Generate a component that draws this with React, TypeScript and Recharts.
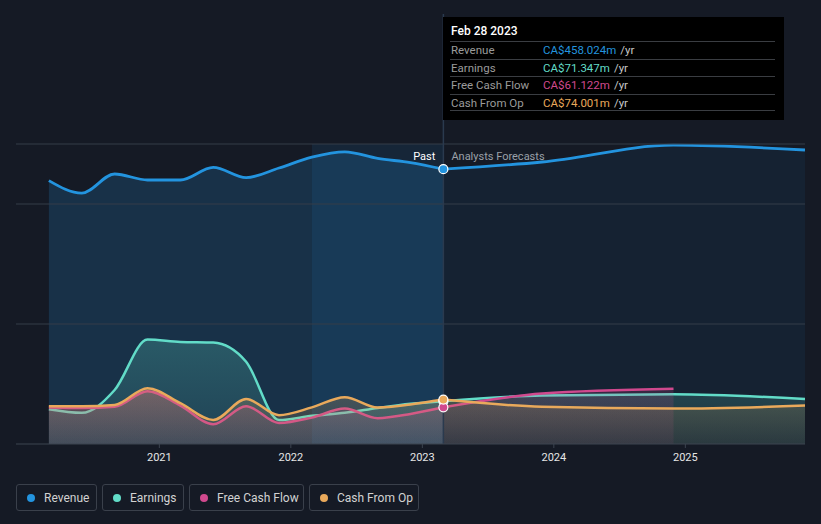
import React from "react";
import {
  ComposedChart,
  Area,
  XAxis,
  YAxis,
  ReferenceArea,
  ReferenceLine,
} from "recharts";

// fractional years: quarterly history (Feb/May/Aug/Nov) then fiscal-year forecasts
const dates = [
  2020.16, 2020.41, 2020.66, 2020.91, 2021.16, 2021.41, 2021.66, 2021.91,
  2022.16, 2022.41, 2022.66, 2022.91, 2023.16, 2023.91, 2024.91, 2025.91,
];
const revenue = [439, 418, 450, 440, 440, 461, 444, 460, 478, 487, 476, 469, 458.024, 470, 498, 490];
const earnings = [58, 52, 90, 174, 170, 169, 137, 40, 47, 52, 60, 67, 71.347, 81, 83, 75];
const freeCashFlow = [61, 60, 62, 88, 64, 33, 63, 35, 44, 59, 43, 50, 61.122, 84, 92, null];
const cashFromOp = [63, 63, 65, 93, 68, 40, 75, 48, 61, 78, 61, 66, 74.001, 62, 59, 64];

const PAST_END = 12; // Feb 28 2023
const BAND_START = 8; // one year before
const yearTicks = [2021, 2022, 2023, 2024, 2025];
const valueTicks = [0, 200, 400, 500];
const gridValues = [200, 400, 500];
const Y_MAX = (500 * 430) / 300;

const seriesNames = ["Revenue", "Earnings", "Free Cash Flow", "Cash From Op"];
const seriesColors = ["#2394df", "#62dcc8", "#d0498e", "#e9a95b"];
const tooltipValues = ["CA$458.024m", "CA$71.347m", "CA$61.122m", "CA$74.001m"];
const tooltipDate = "Feb 28 2023";
const legendWidths = [81, 82, 115, 110];

const BG = "#151a25";
const FONT = "Roboto, 'Open Sans', sans-serif";

const split = (arr: (number | null)[], i: number, past: boolean) =>
  past ? (i <= PAST_END ? arr[i] : null) : i >= PAST_END ? arr[i] : null;

const data = dates.map((t, i) => ({
  t,
  revPast: split(revenue, i, true),
  revFut: split(revenue, i, false),
  earnPast: split(earnings, i, true),
  earnFut: split(earnings, i, false),
  fcfPast: split(freeCashFlow, i, true),
  fcfFut: split(freeCashFlow, i, false),
  cfoPast: split(cashFromOp, i, true),
  cfoFut: split(cashFromOp, i, false),
}));

const makeDot = (color: string) => (p: any) =>
  p.index === PAST_END && p.value != null ? (
    <circle key={p.index} cx={p.cx} cy={p.cy} r={4.5} fill={color} stroke="#fff" strokeWidth={1.2} />
  ) : (
    <g key={p.index} />
  );

const YTick = (props: any) => {
  const { y, payload } = props;
  if (payload.value !== 0 && payload.value !== 500) return <g />;
  return (
    <text x={24} y={y - 8} fill="#e2e2e2" fontSize={11} fontFamily={FONT}>
      {payload.value === 500 ? "CA$500m" : "CA$0"}
    </text>
  );
};

const PastLabel = (props: any) => {
  const { viewBox } = props;
  const y = viewBox.y + 146;
  return (
    <g fontFamily={FONT} fontSize={11}>
      <text x={viewBox.x - 8} y={y} textAnchor="end" fill="#ffffff">
        Past
      </text>
      <text x={viewBox.x + 8} y={y} fill="#9aa0a8">
        Analysts Forecasts
      </text>
    </g>
  );
};

const keys = [
  ["revPast", "revFut"],
  ["earnPast", "earnFut"],
  ["fcfPast", "fcfFut"],
  ["cfoPast", "cfoFut"],
];

export default function App() {
  return (
    <div
      style={{
        position: "absolute",
        left: 0,
        top: 0,
        width: 821,
        height: 524,
        background: BG,
        fontFamily: FONT,
        overflow: "hidden",
      }}
    >
      <ComposedChart
        width={821}
        height={524}
        data={data}
        margin={{ top: 14, right: 16, bottom: 50, left: 16 }}
      >
        <defs>
          {seriesColors.slice(1).map((c, i) => (
            <linearGradient key={i} id={`g${i + 1}`} x1="0" y1="0" x2="0" y2="1">
              <stop offset="0%" stopColor={c} stopOpacity={0.24} />
              <stop offset="100%" stopColor={c} stopOpacity={0.1} />
            </linearGradient>
          ))}
        </defs>
        <XAxis
          dataKey="t"
          type="number"
          domain={[2019.91, 2025.91]}
          ticks={yearTicks}
          tickFormatter={(v) => String(Math.round(v))}
          tick={{ fill: "#e6e6e6", fontSize: 11, fontFamily: FONT }}
          axisLine={{ stroke: "#3c4450" }}
          tickLine={{ stroke: "#3c4450" }}
          tickSize={4}
          tickMargin={5}
          height={30}
        />
        <YAxis
          type="number"
          domain={[0, Y_MAX]}
          ticks={valueTicks}
          width={0}
          axisLine={false}
          tickLine={false}
          tick={<YTick />}
          allowDataOverflow
        />
        {gridValues.map((v) => (
          <ReferenceLine key={v} y={v} stroke="#343c49" />
        ))}
        <ReferenceArea
          x1={dates[BAND_START]}
          x2={dates[PAST_END]}
          y1={0}
          y2={500}
          fill="#2394df"
          fillOpacity={0.1}
          stroke="none"
        />
        {keys.map(([pastKey, futKey], i) => (
          <React.Fragment key={pastKey}>
            <Area
              dataKey={pastKey}
              type="monotone"
              stroke={seriesColors[i]}
              strokeWidth={i === 0 ? 2.8 : 2.5}
              fill={i === 0 ? seriesColors[0] : `url(#g${i})`}
              fillOpacity={i === 0 ? 0.19 : 1}
              dot={makeDot(seriesColors[i])}
              activeDot={false}
              isAnimationActive={false}
            />
            <Area
              dataKey={futKey}
              type="monotone"
              stroke={seriesColors[i]}
              strokeWidth={i === 0 ? 2.8 : 2.5}
              fill={i === 0 ? seriesColors[0] : `url(#g${i})`}
              fillOpacity={i === 0 ? 0.07 : 0.75}
              dot={false}
              activeDot={false}
              isAnimationActive={false}
            />
          </React.Fragment>
        ))}
        <ReferenceLine x={dates[PAST_END]} stroke="#2a3a4e" strokeWidth={1.5} label={<PastLabel />} />
      </ComposedChart>

      {/* static tooltip */}
      <div
        style={{
          position: "absolute",
          left: 443,
          top: 17,
          width: 341,
          height: 103,
          background: "#000",
          boxSizing: "border-box",
          padding: "0 9px 0 7px",
          fontSize: 11.5,
        }}
      >
        <div style={{ height: 24, lineHeight: "28px", color: "#fff", fontSize: 12, paddingLeft: 1, fontWeight: 500 }}>
          {tooltipDate}
        </div>
        {seriesNames.map((n, i) => (
          <div
            key={n}
            style={{
              height: 17.5,
              lineHeight: "17px",
              borderTop: "1px solid #3a3d42",
              borderBottom: i === 3 ? "1px solid #3a3d42" : undefined,
              display: "flex",
              boxSizing: "border-box",
            }}
          >
            <span style={{ width: 92, color: "#9b9b9b", paddingLeft: 1 }}>{n}</span>
            <span style={{ color: seriesColors[i] }}>{tooltipValues[i]}</span>
            <span style={{ color: "#c8c8c8", marginLeft: 4 }}>/yr</span>
          </div>
        ))}
      </div>

      {/* legend */}
      <div style={{ position: "absolute", left: 16, top: 484, display: "flex", gap: 5 }}>
        {seriesNames.map((n, i) => (
          <div
            key={n}
            style={{
              width: legendWidths[i],
              height: 27,
              boxSizing: "border-box",
              border: "1px solid #3a404b",
              borderRadius: 3,
              display: "flex",
              alignItems: "center",
              paddingLeft: 10,
              fontSize: 12,
              color: "#d2d2d2",
              whiteSpace: "nowrap",
            }}
          >
            <span
              style={{
                width: 8,
                height: 8,
                borderRadius: 4,
                background: seriesColors[i],
                marginRight: 9,
                flex: "none",
              }}
            />
            {n}
          </div>
        ))}
      </div>
    </div>
  );
}
